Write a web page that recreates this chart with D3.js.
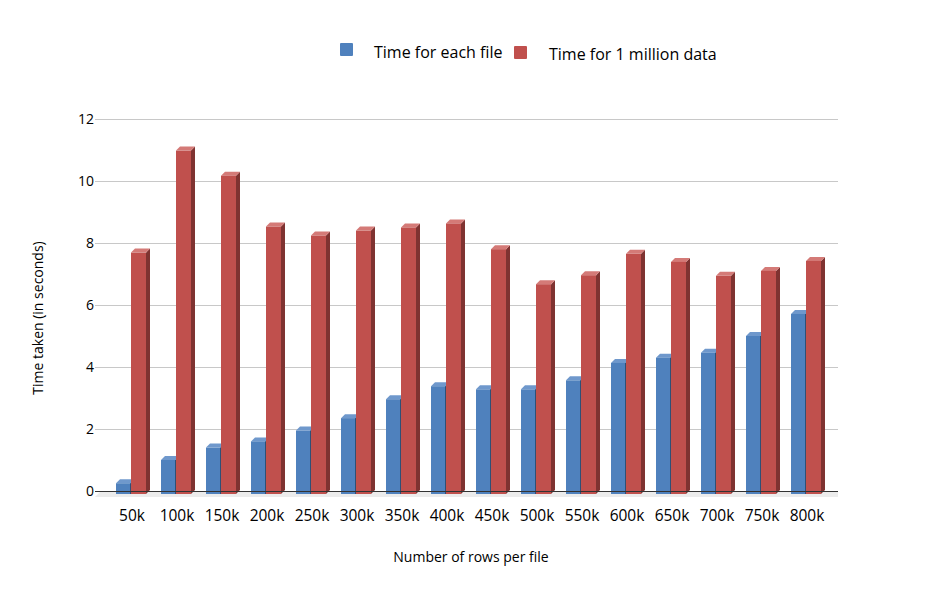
<!DOCTYPE html>
<html>
<head>
<meta charset="utf-8">
<script src="https://cdn.jsdelivr.net/npm/d3@7"></script>
<style>
  body { margin: 0; background: #fff; }
  text { font-family: "Open Sans", "DejaVu Sans", sans-serif; fill: #000; }
</style>
</head>
<body>
<script>
//chart data
var categories = ["50k", "100k", "150k", "200k", "250k", "300k", "350k", "400k", "450k", "500k", "550k", "600k", "650k", "700k", "750k", "800k"];
var seriesNames = ["Time for each file", "Time for 1 million data"];
var eachFile = [0.25, 1.0, 1.4, 1.6, 1.95, 2.35, 2.96, 3.38, 3.28, 3.28, 3.57, 4.13, 4.3, 4.46, 5.0, 5.71];
var millionData = [7.69, 10.98, 10.17, 8.53, 8.24, 8.4, 8.5, 8.63, 7.8, 6.67, 6.96, 7.65, 7.39, 6.94, 7.1, 7.42];
var yTicks = [0, 2, 4, 6, 8, 10, 12];

var width = 949, height = 590;
var depth = 4; //3d offset of bars

var svg = d3.select("body").append("svg")
    .attr("width", width)
    .attr("height", height);

//scales
var x = d3.scaleBand()
    .domain(categories)
    .range([108.5, 828.5])
    .paddingInner(1 / 3)
    .paddingOuter(1 / 6);

var y = d3.scaleLinear()
    .domain([0, 12])
    .range([491, 119]);

//gridlines
svg.selectAll(".grid")
    .data(yTicks.filter(function(d){ return d > 0; }))
    .enter()
    .append("line")
    .attr("x1", 95)
    .attr("x2", 838)
    .attr("y1", function(d){ return y(d) + 0.5; })
    .attr("y2", function(d){ return y(d) + 0.5; })
    .attr("stroke", "#c8c8c8")
    .attr("stroke-width", 1);

//floor
svg.append("path")
    .attr("d", "M95," + (y(0) + 6) + "L101," + y(0) + "L838," + y(0) + "L838," + (y(0) + 6) + "Z")
    .attr("fill", "#ececec");

//y axis labels
var yAxis = d3.axisLeft(y).tickValues(yTicks).tickSize(0).tickPadding(0);
var ya = svg.append("g")
    .attr("transform", "translate(94,0)")
    .call(yAxis);
ya.select(".domain").remove();
ya.selectAll("text")
    .style("font-size", "14px")
    .style("font-family", "'Open Sans', 'DejaVu Sans', sans-serif");

//bars
var series = [
    {name: seriesNames[0], values: eachFile, front: "#4f81bd", side: "#385d8a", top: "#6f98cc", offset: 0},
    {name: seriesNames[1], values: millionData, front: "#c0504d", side: "#7f3331", top: "#d47a77", offset: 1}
];
var barW = x.bandwidth() / 2;

series.forEach(function(s){
    var g = svg.append("g").attr("class", "series");
    var bars = g.selectAll("g")
        .data(categories.map(function(c, i){ return {cat: c, val: s.values[i]}; }))
        .enter()
        .append("g");

    bars.each(function(d){
        var gg = d3.select(this);
        var x0 = x(d.cat) + s.offset * barW,
            x1 = x0 + barW,
            y0 = y(d.val),
            yb = y(0);
        //side face
        gg.append("path")
            .attr("d", "M" + x1 + "," + y0 + "L" + (x1 + depth) + "," + (y0 - depth) +
                "L" + (x1 + depth) + "," + (yb - depth + 3) + "L" + x1 + "," + (yb + 3) + "Z")
            .attr("fill", s.side);
        //top face
        gg.append("path")
            .attr("d", "M" + x0 + "," + y0 + "L" + (x0 + depth) + "," + (y0 - depth) +
                "L" + (x1 + depth) + "," + (y0 - depth) + "L" + x1 + "," + y0 + "Z")
            .attr("fill", s.top);
        //front face
        gg.append("rect")
            .attr("x", x0)
            .attr("y", y0)
            .attr("width", barW)
            .attr("height", yb + 3 - y0)
            .attr("fill", s.front);
        if (s.offset == 0) {
            gg.append("line")
                .attr("x1", x1 - 0.5).attr("x2", x1 - 0.5)
                .attr("y1", y0).attr("y2", yb + 3)
                .attr("stroke", "#2f4f75").attr("stroke-width", 1);
        }
    });
});

//axis line
svg.append("line")
    .attr("x1", 95)
    .attr("x2", 838)
    .attr("y1", y(0) + 0.5)
    .attr("y2", y(0) + 0.5)
    .attr("stroke", "#333")
    .attr("stroke-width", 1);

//x axis labels
var xAxis = d3.axisBottom(x).tickSize(0).tickPadding(0);
var xa = svg.append("g")
    .attr("transform", "translate(1,510)")
    .call(xAxis);
xa.select(".domain").remove();
xa.selectAll("text")
    .attr("dy", "0.71em")
    .style("font-size", "15.5px")
    .style("font-family", "'Open Sans', 'DejaVu Sans', sans-serif");

//axis titles
svg.append("text")
    .attr("x", 471)
    .attr("y", 562)
    .attr("text-anchor", "middle")
    .style("font-size", "14px")
    .text("Number of rows per file");

svg.append("text")
    .attr("transform", "translate(43,318) rotate(-90)")
    .attr("text-anchor", "middle")
    .style("font-size", "14px")
    .text("Time taken (in seconds)");

//legend
var legend = [
    {name: seriesNames[0], color: "#4f81bd", sx: 340, sy: 43, tx: 374, ty: 58},
    {name: seriesNames[1], color: "#c0504d", sx: 514, sy: 46, tx: 549, ty: 60}
];
var lg = svg.selectAll(".legend")
    .data(legend)
    .enter()
    .append("g")
    .attr("class", "legend");
lg.append("rect")
    .attr("x", function(d){ return d.sx; })
    .attr("y", function(d){ return d.sy; })
    .attr("width", 13)
    .attr("height", 13)
    .attr("rx", 1)
    .attr("fill", function(d){ return d.color; });
lg.append("text")
    .attr("x", function(d){ return d.tx; })
    .attr("y", function(d){ return d.ty; })
    .style("font-size", "16px")
    .text(function(d){ return d.name; });
</script>
</body>
</html>
